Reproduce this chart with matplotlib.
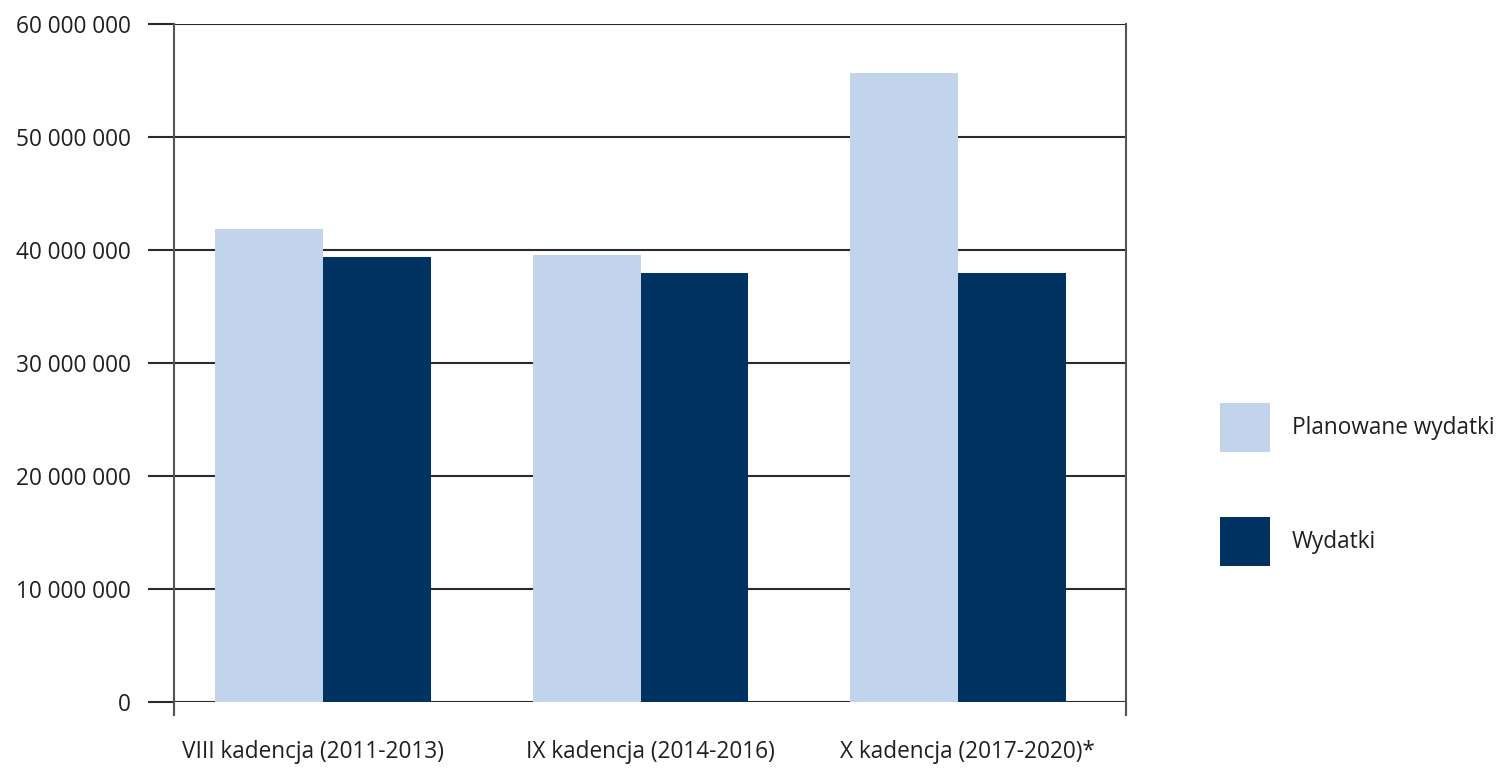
import matplotlib.pyplot as plt
import matplotlib.transforms as mtransforms
import numpy as np

kadencje = ['VIII kadencja (2011-2013)', 'IX kadencja (2014-2016)', 'X kadencja (2017-2020)*']
planowane = [41_850_000, 39_550_000, 55_650_000]
wydatki = [39_350_000, 37_950_000, 37_950_000]
yticks = [0, 10_000_000, 20_000_000, 30_000_000, 40_000_000, 50_000_000, 60_000_000]

plt.rcParams['font.family'] = ['Open Sans', 'DejaVu Sans']
fs = 16.3

fig = plt.figure(figsize=(15, 7.7), dpi=100)
ax = fig.add_axes([0.116, 0.0883, 0.6347, 0.8805])

x = np.arange(len(kadencje)) - 0.03
w = 0.34
ax.bar(x - w / 2, planowane, w, color='#c2d4eb', label='Planowane wydatki', zorder=2)
ax.bar(x + w / 2, wydatki, w, color='#003361', label='Wydatki', zorder=2)

ax.set_xlim(-0.5, 2.5)
ax.set_ylim(0, 60_000_000)

ax.set_yticks(yticks)
ax.set_yticklabels([f'{v:,}'.replace(',', ' ') for v in yticks], fontsize=fs, color='#231f20')
ax.yaxis.grid(True, color='#2b2b2b', linewidth=1.5, zorder=1)
ax.tick_params(axis='y', length=19, width=1.5, color='#2b2b2b', pad=12)

ax.set_xticks([-0.5, 2.5])
ax.set_xticklabels(['', ''])
ax.tick_params(axis='x', which='major', length=9.5, width=1.5, color='#555555')
ax.set_xticks(np.arange(len(kadencje)), minor=True)
ax.set_xticklabels(kadencje, minor=True, fontsize=fs, color='#231f20')
ax.tick_params(axis='x', which='minor', length=0, pad=27.5)
# first label sits a bit left of its category in the original
lab0 = ax.xaxis.get_minor_ticks()[0].label1
lab0.set_transform(lab0.get_transform() + mtransforms.ScaledTranslation(-0.2, 0, fig.dpi_scale_trans))

for s in ['top', 'bottom']:
    ax.spines[s].set_visible(False)
for s in ['left', 'right']:
    ax.spines[s].set_color('#555555')
    ax.spines[s].set_linewidth(1.5)
    ax.spines[s].set_bounds(-1_150_000, 60_000_000)
ax.set_axisbelow(True)

leg = ax.legend(loc='upper left', bbox_to_anchor=(1220 / 1500, 1 - 403 / 770),
                bbox_transform=fig.transFigure, frameon=False, fontsize=fs,
                handlelength=2.21, handleheight=2.98, labelspacing=2.85,
                handletextpad=0.95, borderpad=0, borderaxespad=0)
for t in leg.get_texts():
    t.set_color('#231f20')

fig.savefig('out.png')
